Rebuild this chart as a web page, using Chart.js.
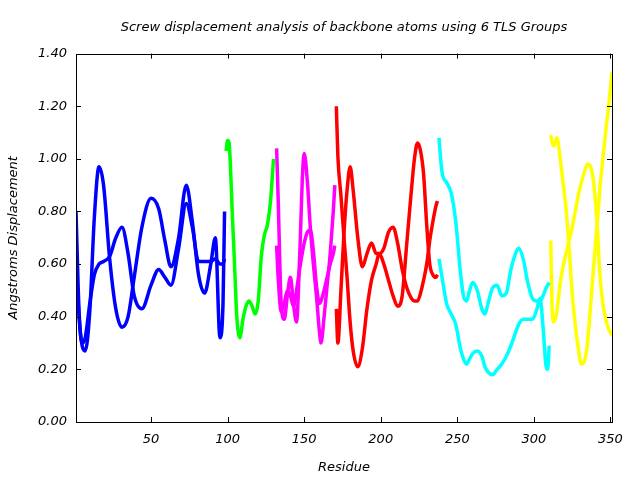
<!DOCTYPE html>
<html>
<head>
<meta charset="utf-8">
<script src="https://cdn.jsdelivr.net/npm/chart.js@4"></script>
<style>
  html, body { margin: 0; padding: 0; background: #fff; }
</style>
</head>
<body>
<canvas id="screwChart" width="640" height="480"></canvas>
<script>
// Residue numbers and displacement values (Angstroms) per TLS group, two curves each
const residues1 = [1,3,5,7,10,13,16,19,23,27,31,35,39,44,50,55,59,63,68,73,77,81,85,89,92,95,97,98];
const group1A = [0.62,0.40,0.29,0.27,0.42,0.78,0.97,0.90,0.62,0.43,0.36,0.40,0.55,0.74,0.85,0.81,0.69,0.59,0.70,0.90,0.76,0.56,0.49,0.60,0.70,0.32,0.45,0.80];
const group1B = [0.80,0.42,0.30,0.32,0.45,0.56,0.60,0.61,0.63,0.70,0.74,0.64,0.48,0.43,0.52,0.58,0.55,0.52,0.66,0.83,0.74,0.61,0.61,0.61,0.62,0.60,0.60,0.62];

const residues2 = [99,100,101,102,103,104,105,106,108,110,112,114,116,118,120,122,124,126,128,130];
const group2A = [1.03,1.07,1.06,0.95,0.80,0.67,0.53,0.40,0.32,0.39,0.44,0.46,0.44,0.41,0.46,0.63,0.71,0.75,0.84,1.00];

const residues3 = [132,133,135,137,139,141,143,145,147,149,150,152,154,156,158,160,161,163,165,167,169,170];
const group3A = [1.04,0.85,0.45,0.39,0.48,0.55,0.45,0.38,0.62,0.95,1.02,0.92,0.74,0.60,0.48,0.34,0.30,0.40,0.52,0.64,0.80,0.90];
const group3B = [0.67,0.55,0.42,0.45,0.50,0.48,0.44,0.50,0.58,0.65,0.68,0.72,0.73,0.65,0.52,0.45,0.46,0.50,0.55,0.60,0.64,0.67];

const residues4 = [171,172,174,176,178,180,182,185,188,191,194,197,199,202,205,208,211,214,217,220,222,224,226,228,230,232,234,236,237];
const group4A = [1.20,1.01,0.86,0.70,0.55,0.38,0.27,0.21,0.28,0.43,0.54,0.60,0.64,0.60,0.54,0.48,0.44,0.48,0.68,0.88,1.00,1.06,1.03,0.94,0.75,0.60,0.56,0.55,0.56];
const group4B = [0.43,0.30,0.50,0.72,0.88,0.97,0.88,0.70,0.59,0.64,0.68,0.64,0.64,0.66,0.72,0.74,0.68,0.58,0.51,0.47,0.46,0.46,0.49,0.54,0.60,0.69,0.76,0.82,0.84];

const residues5 = [238,240,243,246,249,252,254,256,258,260,263,266,268,270,273,276,279,282,285,288,290,293,296,299,302,304,306,308,309,310];
const group5A = [1.08,0.95,0.91,0.87,0.76,0.57,0.48,0.46,0.50,0.53,0.50,0.43,0.41,0.45,0.51,0.52,0.48,0.49,0.58,0.64,0.66,0.62,0.53,0.47,0.46,0.46,0.48,0.51,0.52,0.53];
const group5B = [0.62,0.55,0.45,0.41,0.37,0.28,0.24,0.22,0.24,0.26,0.27,0.25,0.21,0.19,0.18,0.20,0.22,0.25,0.29,0.34,0.37,0.39,0.39,0.39,0.43,0.47,0.36,0.21,0.20,0.29];

const residues6 = [311,312,313,315,317,319,321,323,325,327,329,331,333,335,337,339,341,343,345,347,349,350,351];
const group6A = [1.09,1.06,1.05,1.08,1.01,0.91,0.81,0.66,0.49,0.37,0.28,0.22,0.23,0.30,0.44,0.59,0.73,0.88,1.00,1.11,1.21,1.27,1.33];
const group6B = [0.69,0.42,0.38,0.42,0.52,0.59,0.64,0.69,0.74,0.80,0.86,0.91,0.95,0.98,0.97,0.91,0.78,0.57,0.45,0.39,0.35,0.34,0.33];

const xTicks = [50,100,150,200,250,300,350];

const fontFamily = '"DejaVu Sans", sans-serif';

function series(residues, values, color) {
  return {
    data: residues.map((r, i) => ({ x: r, y: values[i] })),
    borderColor: color,
    borderWidth: 3.5,
    pointRadius: 0,
    fill: false,
    cubicInterpolationMode: 'monotone'
  };
}

// gnuplot style frame with inward ticks on all four sides
const frameTicks = {
  id: 'frameTicks',
  afterDraw(chart) {
    const { ctx, chartArea: a, scales } = chart;
    ctx.save();
    ctx.strokeStyle = '#000';
    ctx.lineWidth = 1;
    ctx.strokeRect(Math.round(a.left) + 0.5, Math.round(a.top) + 0.5,
      Math.round(a.right - a.left), Math.round(a.bottom - a.top));
    ctx.beginPath();
    scales.x.ticks.forEach(t => {
      const px = Math.round(scales.x.getPixelForValue(t.value)) + 0.5;
      ctx.moveTo(px, a.bottom); ctx.lineTo(px, a.bottom - 5);
      ctx.moveTo(px, a.top); ctx.lineTo(px, a.top + 5);
    });
    scales.y.ticks.forEach(t => {
      const py = Math.round(scales.y.getPixelForValue(t.value)) + 0.5;
      ctx.moveTo(a.left, py); ctx.lineTo(a.left + 5, py);
      ctx.moveTo(a.right, py); ctx.lineTo(a.right - 5, py);
    });
    ctx.stroke();
    ctx.restore();
  }
};

const ctx = document.getElementById('screwChart').getContext('2d');
new Chart(ctx, {
  type: 'line',
  data: {
    datasets: [
      series(residues1, group1A, '#0000ff'),
      series(residues1, group1B, '#0000ff'),
      series(residues2, group2A, '#00ff00'),
      series(residues3, group3A, '#ff00ff'),
      series(residues3, group3B, '#ff00ff'),
      series(residues4, group4A, '#ff0000'),
      series(residues4, group4B, '#ff0000'),
      series(residues5, group5A, '#00ffff'),
      series(residues5, group5B, '#00ffff'),
      series(residues6, group6A, '#ffff00'),
      series(residues6, group6B, '#ffff00')
    ]
  },
  options: {
    responsive: false,
    animation: false,
    layout: { padding: { left: 0, right: 28, top: 0, bottom: 0 } },
    plugins: {
      legend: { display: false },
      tooltip: { enabled: false },
      title: {
        display: true,
        fullSize: false,
        text: 'Screw displacement analysis of backbone atoms using 6 TLS Groups',
        color: '#000',
        font: { family: fontFamily, size: 13, style: 'italic', weight: 'normal' },
        padding: { top: 20, bottom: 18 }
      }
    },
    scales: {
      x: {
        type: 'linear',
        min: 1,
        max: 351,
        afterBuildTicks: scale => { scale.ticks = xTicks.map(v => ({ value: v })); },
        afterFit: scale => { scale.height = 58; },
        grid: { display: false, drawTicks: false },
        border: { display: false },
        ticks: {
          color: '#000',
          padding: 10,
          maxRotation: 0,
          font: { family: fontFamily, size: 13, style: 'italic' },
          callback: v => String(v)
        },
        title: {
          display: true,
          text: 'Residue',
          color: '#000',
          font: { family: fontFamily, size: 13, style: 'italic' },
          padding: { top: 4, bottom: 5 }
        }
      },
      y: {
        min: 0,
        max: 1.4,
        afterFit: scale => { scale.width = 76; },
        grid: { display: false, drawTicks: false },
        border: { display: false },
        ticks: {
          stepSize: 0.2,
          color: '#000',
          padding: 9,
          font: { family: fontFamily, size: 13, style: 'italic' },
          callback: v => v.toFixed(2)
        },
        title: {
          display: true,
          text: 'Angstroms Displacement',
          color: '#000',
          font: { family: fontFamily, size: 13, style: 'italic' },
          padding: { top: 6, bottom: 4 }
        }
      }
    }
  },
  plugins: [frameTicks]
});
</script>
</body>
</html>
